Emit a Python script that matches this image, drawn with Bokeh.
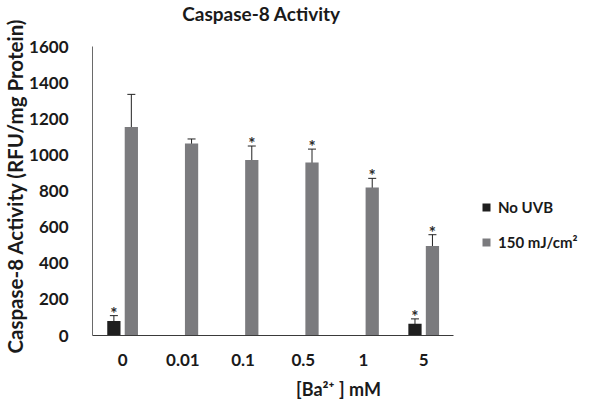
from bokeh.plotting import figure
from bokeh.models import (ColumnDataSource, Range1d, FixedTicker, Whisker, TeeHead,
                          Legend, LegendItem, Label, Title)
from bokeh.core.properties import value
from bokeh.embed import file_html
from bokeh.resources import INLINE

categories = ["0", "0.01", "0.1", "0.5", "1", "5"]
no_uvb = [80, None, None, None, None, 65]
no_uvb_err = [30, None, None, None, None, 27]
no_uvb_sig = [True, False, False, False, False, True]
uvb150 = [1155, 1063, 972, 958, 820, 496]
uvb150_err = [180, 25, 77, 74, 50, 62]
uvb150_sig = [False, False, True, True, True, True]

FONT = "Lato"
BLACK = "#1f1f1f"
GRAY = "#7b7b7e"
TXT = "#1a1a1a"

pos = [i + 0.5 for i in range(len(categories))]
off = 0.145
bw = 0.22

def build(vals, errs, sig, shift):
    xs, ys, lo, hi, sx, sy = [], [], [], [], [], []
    for p_, v, e, s in zip(pos, vals, errs, sig):
        if v is None:
            continue
        xs.append(p_ + shift); ys.append(v); lo.append(v - e); hi.append(v + e)
        if s:
            sx.append(p_ + shift); sy.append(v + e)
    return (ColumnDataSource(dict(x=xs, top=ys, lower=lo, upper=hi)),
            ColumnDataSource(dict(x=sx, y=sy, t=["*"] * len(sx))))

src_a, star_a = build(no_uvb, no_uvb_err, no_uvb_sig, -off)
src_b, star_b = build(uvb150, uvb150_err, uvb150_sig, off)

W, H = 584, 403
left, right, top, bottom = 84, 0, 0, 68
y_max = 1600
# frame extends to the top edge; the axis stops at 1600 (axis top 46px below edge)
y_end = y_max * (H - bottom) / (H - bottom - 46)
p = figure(width=W, height=H, output_backend="svg", toolbar_location=None,
           x_range=Range1d(0, 8.17), y_range=Range1d(0, y_end),
           min_border_left=left, min_border_right=right,
           min_border_top=top, min_border_bottom=bottom)
p.grid.visible = False
p.outline_line_color = None
p.background_fill_color = None
p.border_fill_color = "white"

r_a = p.vbar(x="x", top="top", width=bw, source=src_a, fill_color=BLACK, line_color=None)
r_b = p.vbar(x="x", top="top", width=bw, source=src_b, fill_color=GRAY, line_color=None)

for src in (src_a, src_b):
    w = Whisker(base="x", upper="upper", lower="lower", source=src,
                line_color="#222222", line_width=1,
                upper_head=TeeHead(size=8, line_color="#222222", line_width=1),
                lower_head=TeeHead(size=8, line_color="#222222", line_width=1))
    p.add_layout(w)

for st in (star_a, star_b):
    p.text(x="x", y="y", text="t", source=st, text_font=value(FONT),
           text_font_size="17px", text_font_style="bold", text_color="#2a2a2a",
           text_align="center", text_baseline="bottom", y_offset=8)

# title (inside the extended frame, above the axis top)
p.add_layout(Label(x=169, y=322, x_units="screen", y_units="screen",
                   text="Caspase-8 Activity", text_font=FONT, text_font_size="19px",
                   text_font_style="bold", text_color=TXT, text_align="center",
                   text_baseline="alphabetic"))

# axes
p.yaxis.ticker = FixedTicker(ticks=list(range(0, 1601, 200)))
p.yaxis.bounds = (0, y_max)
p.yaxis.major_tick_line_color = None
p.yaxis.minor_tick_line_color = None
p.yaxis.axis_line_color = "#6a6a6a"
p.yaxis.major_label_text_font = FONT
p.yaxis.major_label_text_font_size = "17px"
p.yaxis.major_label_text_font_style = "bold"
p.yaxis.major_label_text_color = TXT
p.yaxis.major_label_standoff = 18

# y-axis title placed in the left panel so it can be centred on the 0-1600 span
p.add_layout(Title(text="Caspase-8 Activity (RFU/mg Protein)", align="left",
                   offset=-18, standoff=0, text_font=FONT, text_font_size="20.5px",
                   text_font_style="bold", text_color=TXT), "left")

p.xaxis.ticker = FixedTicker(ticks=pos)
p.xaxis.major_label_overrides = {p_: c for p_, c in zip(pos, categories)}
p.xaxis.bounds = (0, len(categories))
p.xaxis.major_tick_line_color = None
p.xaxis.minor_tick_line_color = None
p.xaxis.axis_line_color = "#3a3a3a"
p.xaxis.major_label_text_font = FONT
p.xaxis.major_label_text_font_size = "17px"
p.xaxis.major_label_text_font_style = "bold"
p.xaxis.major_label_text_color = TXT
p.xaxis.major_label_standoff = 12
p.xaxis.axis_label = "[Ba²⁺ ] mM"
p.xaxis.axis_label_text_font = FONT
p.xaxis.axis_label_text_font_size = "18px"
p.xaxis.axis_label_text_font_style = "bold"
p.xaxis.axis_label_text_color = TXT
p.xaxis.axis_label_standoff = 9

legend = Legend(items=[LegendItem(label="No UVB", renderers=[r_a]),
                       LegendItem(label="150 mJ/cm²", renderers=[r_b])],
                location=(389, 84), padding=0, margin=0, spacing=17,
                glyph_width=10, glyph_height=10, label_height=16, label_standoff=7,
                label_text_font=FONT, label_text_font_size="15px",
                label_text_font_style="bold", label_text_color=TXT,
                border_line_color=None, background_fill_alpha=0)
p.add_layout(legend)

open("out.html", "w").write(file_html(p, INLINE))
